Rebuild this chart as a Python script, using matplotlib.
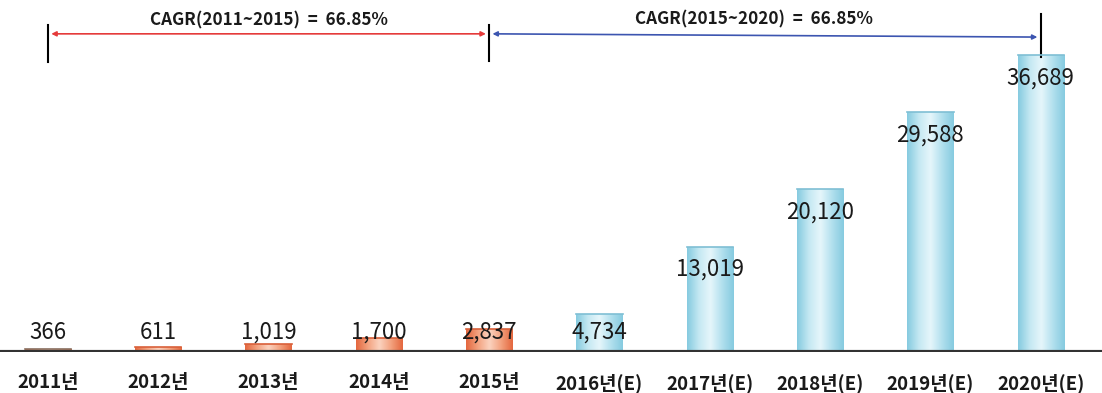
import numpy as np
import matplotlib.pyplot as plt
from matplotlib.colors import LinearSegmentedColormap

plt.rcParams['font.family'] = ['Noto Sans CJK KR', 'DejaVu Sans']

# data
years = ['2011년', '2012년', '2013년', '2014년', '2015년',
         '2016년(E)', '2017년(E)', '2018년(E)', '2019년(E)', '2020년(E)']
values = [366, 611, 1019, 1700, 2837, 4734, 13019, 20120, 29588, 36689]
value_labels = ['366', '611', '1,019', '1,700', '2,837',
                '4,734', '13,019', '20,120', '29,588', '36,689']
cagr_text = ['CAGR(2011~2015)  =  66.85%', 'CAGR(2015~2020)  =  66.85%']

fig = plt.figure(figsize=(11.02, 3.93), dpi=100)
ax = fig.add_axes([0, 41 / 393, 1, 352 / 393])

x = np.arange(len(values))
width = 0.42
ymax = 43480

orange = LinearSegmentedColormap.from_list(
    'o', ['#e4683f', '#f3a27f', '#fbd3c0', '#f3a27f', '#e4683f'])
blue = LinearSegmentedColormap.from_list(
    'b', ['#86cbe0', '#c4e8f2', '#e6f6fb', '#b2e0ee', '#86cbe0'])

grad = np.linspace(0, 1, 64).reshape(1, -1)
bars = ax.bar(x, values, width=width, color='none', edgecolor='none')
for i, b in enumerate(bars):
    cmap = orange if i < 5 else blue
    x0 = b.get_x()
    x1, y1 = x0 + b.get_width(), b.get_height()
    im = ax.imshow(grad, cmap=cmap, aspect='auto', extent=[x0, x1, 0, y1],
                   zorder=2, interpolation='bicubic')
    im.set_clip_path(b)
    cap = '#7fbfd4' if i >= 5 else ('#8a7060' if i == 0 else '#d9603a')
    ax.plot([x0, x1], [y1, y1], color=cap, lw=1.2, zorder=3)
ax.set_xlim(-0.435, 9.556)
ax.set_ylim(0, ymax)

# value labels
for xi, v, lab in zip(x, values, value_labels):
    ly = max(v - 2840, 2470)
    ax.text(xi, ly, lab, ha='center', va='center', fontsize=16,
            color='#1a1a1a', zorder=4)

# baseline
ax.axhline(0, color='#333333', lw=3, zorder=5)

# CAGR brackets
ax.plot([0, 0], [35800, 40400], color='black', lw=1.5)
ax.plot([4, 4], [36000, 40400], color='black', lw=1.5)
ax.plot([9, 9], [36450, 41750], color='black', lw=1.5)
ax.annotate('', xy=(0.03, 39300), xytext=(3.97, 39300),
            arrowprops=dict(arrowstyle='<|-|>', color='#e53a3a', lw=1.2,
                            mutation_scale=7, shrinkA=0, shrinkB=0))
ax.annotate('', xy=(4.03, 39300), xytext=(8.97, 38900),
            arrowprops=dict(arrowstyle='<|-|>', color='#3c55b0', lw=1.2,
                            mutation_scale=7, shrinkA=0, shrinkB=0))
ax.text(2.0, 40950, cagr_text[0], ha='center', va='center', fontsize=12.3,
        fontweight='bold', color='#1a1a1a')
ax.text(6.4, 41050, cagr_text[1], ha='center', va='center', fontsize=12.3,
        fontweight='bold', color='#1a1a1a')

for s in ax.spines.values():
    s.set_visible(False)
ax.set_yticks([])
ax.set_xticks(x)
ax.set_xticklabels(years, fontsize=13.5, fontweight='bold', color='#1a1a1a')
ax.tick_params(axis='x', length=0, pad=15)

fig.savefig('out.png', dpi=100)
